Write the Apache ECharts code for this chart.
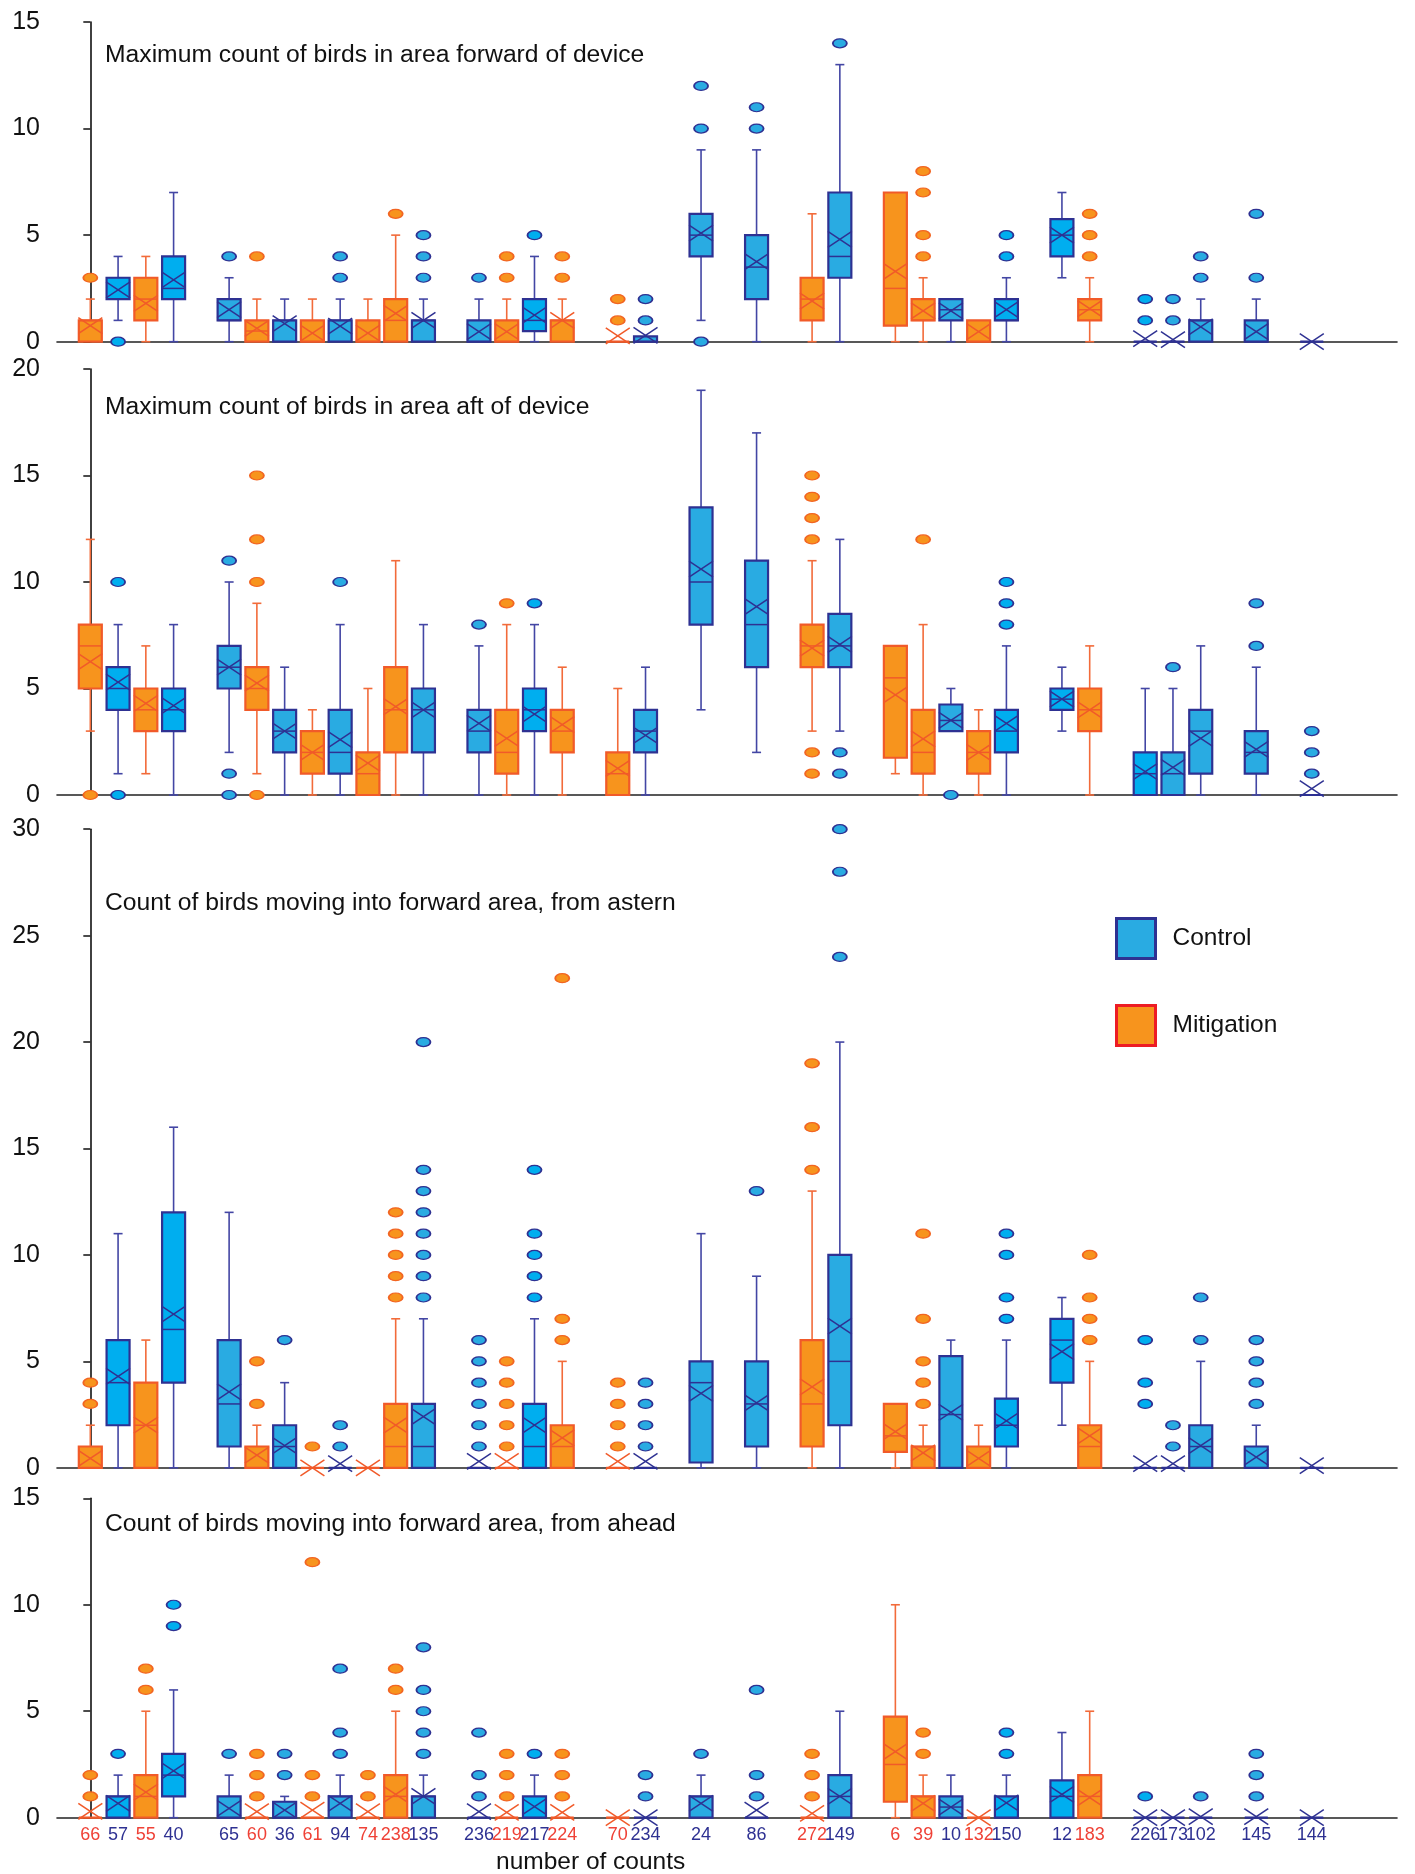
<!DOCTYPE html>
<html><head><meta charset="utf-8">
<script src="https://cdn.jsdelivr.net/npm/echarts@6/dist/echarts.min.js"></script>
<style>html,body{margin:0;padding:0;background:#fff}#c{width:1415px;height:1874px}</style>
</head><body><div id="c"></div><script>
// ---- categories (slot index on the x axis), counts and groups ----
const slotPos = [0,1,2,3,5,6,7,8,9,10,11,12,14,15,16,17,19,20,22,24,26,27,29,30,31,32,33,35,36,38,39,40,42,44];
const countLabels = [66,57,55,40,65,60,36,61,94,74,238,135,236,219,217,224,70,234,24,86,272,149,6,39,10,132,150,12,183,226,173,102,145,144];
const groups = ['M','C','M','C','C','M','C','M','C','M','M','C','C','M','C','M','M','C','C','C','M','C','M','M','C','M','C','C','M','C','C','C','C','C'];

const panelTitles = [
  'Maximum count of birds in area forward of device',
  'Maximum count of birds in area aft of device',
  'Count of birds moving into forward area, from astern',
  'Count of birds moving into forward area, from ahead'
];
const yMax = [15, 20, 30, 15];

// ---- stats per slot: [min, Q1, median, Q3, max, mean] ----
const fwdStats = [
  [0,0,1,1,2,0.75],[1,2,2,3,4,2.43],[0,1,2,3,4,1.8],[0,2,2.5,4,7,2.9],
  [0,1,1,2,3,1.5],[0,0,0.5,1,2,0.63],[0,0,1,1,2,0.85],[0,0,0,1,2,0.4],
  [0,0,1,1,2,0.73],[0,0,0,1,2,0.4],[0,0,1,2,5,1.33],[0,0,1,1,2,1.0],
  [0,0,0,1,2,0.47],[0,0,0,1,2,0.47],[0,0.5,1,2,4,1.25],[0,0,1,1,2,1.0],
  [0,0,0,0,0,0.27],[0,0,0,0.25,0.25,0.3],[1,4,5,6,9,5.1],[0,2,3.5,5,9,3.76],
  [0,1,2,3,6,1.9],[0,3,4,7,13,4.8],[0,0.75,2.5,7,7,3.3],[0,1,1,2,3,1.45],
  [0,1,1.5,2,2,1.45],[0,0,0,1,1,0.47],[0,1,1,2,3,1.5],[3,4,5,5.75,7,5],
  [0,1,1.5,2,3,1.55],[0,0,0,0,0,0.15],[0,0,0,0,0,0.1],[0,0,1,1,2,0.7],
  [0,0,0,1,2,0.47],[0,0,0,0,0,0]
];
const fwdOut = [[3],[0],[],[],[4],[4],[],[],[3,4],[],[6],[3,4,5],[3],[3,4],[5],[3,4],[1,2],[1,2],
  [10,12,0],[10,11],[],[14],[],[4,5,7,8],[],[],[4,5],[],[4,5,6],[1,2],[1,2],[3,4],[3,6],[]];

const aftStats = [
  [3,5,7,8,12,6.26],[1,4,5,6,8,5.3],[1,3,4,5,7,4.3],[0,3,4,5,8,4.2],
  [2,5,6,7,10,6.0],[1,4,5,6,9,5.25],[0,2,3,4,6,3.0],[0,1,2,3,4,2.0],
  [0,1,2,4,8,2.6],[0,0,1,2,5,1.5],[0,2,4,6,11,4.15],[0,2,4,5,8,4.0],
  [0,2,3,4,7,3.36],[0,1,2,4,8,2.66],[0,3,4,5,8,3.8],[0,2,3,4,6,3.3],
  [0,0,1,2,5,1.25],[0,2,3,4,6,2.8],[4,8,10,13.5,19,10.6],[2,6,8,11,17,8.84],
  [3,6,7,8,11,6.9],[3,6,7,8.5,12,7.07],[1,1.75,5.5,7,7,4.7],[0,1,2,4,8,2.63],
  [3,3,3.5,4.25,5,3.5],[0,1,2,3,4,2.0],[0,2,3,4,7,3.36],[3,4,4.5,5,6,4.5],
  [0,3,4,5,7,4.0],[0,0,1,2,5,1.1],[0,0,1,2,5,1.3],[0,1,3,4,7,2.66],
  [0,1,2,3,6,2.14],[0,0,0,0,0,0.3]
];
const aftOut = [[0],[10,0],[],[],[11,1,0],[10,12,15,0],[],[],[10],[],[],[],[8],[9],[9],[],[],[],
  [],[],[12,13,14,15,2,1],[2,1],[],[12],[0],[],[8,9,10],[],[],[],[6],[],[7,9],[1,2,3]];

const asternStats = [
  [0,0,0,1,2,0.44],[0,2,4,6,11,4.3],[0,0,2,4,6,2.0],[0,4,6.5,12,16,7.22],
  [0,1,3,6,12,3.57],[0,0,0,1,2,0.6],[0,0,1,2,4,1.04],[0,0,0,0,0,0],
  [0,0,0,0,0,0.2],[0,0,0,0,0,0],[0,0,1,3,7,2.0],[0,0,1,3,7,2.4],
  [0,0,0,0,0,0.3],[0,0,0,0,0,0.3],[0,0,1,3,7,2.0],[0,0,1,2,5,1.4],
  [0,0,0,0,0,0.3],[0,0,0,0,0,0.3],[0,0.25,4,5,11,3.5],[0,1,3,5,9,3.05],
  [0,1,3,6,13,3.8],[0,2,5,10,20,6.66],[0,0.75,1.5,3,3,1.7],[0,0,1,1,2,0.7],
  [0,0,2.5,5.25,6,2.6],[0,0,0,1,2,0.44],[0,1,2,3.25,6,2.2],[2,4,6,7,8,5.46],
  [0,0,1,2,5,1.5],[0,0,0,0,0,0.2],[0,0,0,0,0,0.2],[0,0,1,2,5,1.04],
  [0,0,0,1,2,0.5],[0,0,0,0,0,0.1]
];
const asternOut = [[3,4],[],[],[],[],[3,5],[6],[1],[1,2],[],[8,9,10,11,12],[8,9,10,11,12,13,14,20],
  [1,2,3,4,5,6],[1,2,3,4,5],[8,9,10,11,14],[6,7,23],[1,2,3,4],[1,2,3,4],[],[13],[14,16,19],[24,28,30],
  [],[3,4,5,7,11],[],[],[7,8,10,11],[],[6,7,8,10],[3,4,6],[1,2],[6,8],[3,4,5,6],[]];

const aheadStats = [
  [0,0,0,0,0,0.3],[0,0,1,1,2,0.67],[0,0,1,2,5,1.2],[0,1,2,3,6,2.2],
  [0,0,0,1,2,0.44],[0,0,0,0,0,0.28],[0,0,0,0.75,1,0.36],[0,0,0,0,0,0.36],
  [0,0,1,1,2,0.67],[0,0,0,0,0,0.28],[0,0,1,2,5,1.1],[0,0,1,1,2,1.0],
  [0,0,0,0,0,0.28],[0,0,0,0,0,0.25],[0,0,0,1,2,0.52],[0,0,0,0,0,0.25],
  [0,0,0,0,0,0],[0,0,0,0,0,0],[0,0,1,1,2,0.67],[0,0,0,0,0,0.36],
  [0,0,0,0,0,0.2],[0,0,1,2,5,1.0],[0,0.75,2.5,4.75,10,3.1],[0,0,1,1,2,0.67],
  [0,0,0.5,1,2,0.5],[0,0,0,0,0,0],[0,0,0,1,2,0.7],[0,0,1,1.75,4,1.1],
  [0,0,1,2,5,0.94],[0,0,0,0,0,0],[0,0,0,0,0,0],[0,0,0,0,0,0.05],
  [0,0,0,0,0,0.05],[0,0,0,0,0,0]
];
const aheadOut = [[1,2],[3],[6,7],[9,10],[3],[1,2,3],[2,3],[1,2,12],[3,4,7],[1,2],[6,7],[3,4,5,6,8],
  [1,2,4],[1,2,3],[3],[1,2,3],[],[1,2],[3],[1,2,6],[1,2,3],[],[],[3,4],[],[],[3,4],[],[],[1],[],[1],[1,2,3],[]];

const allStats = [fwdStats, aftStats, asternStats, aheadStats];
const allOut = [fwdOut, aftOut, asternOut, aheadOut];

// ---- styles ----
const FONT = '"Liberation Sans", Arial, sans-serif';
const NARROW = '"Liberation Sans Narrow", "Liberation Sans", Arial, sans-serif';
const BRIGHT_FILL = '#00aeef';
const BRIGHT_SLOTS = [1, 3, 16, 33, 35, 38];   // control slots drawn in the brighter cyan
const STY = {
  C: {fill:'#29abe2', border:'#2e3192', line:'#4346a4', cross:'#2e3192', oFill:'#29abe2', oBorder:'#2e3192'},
  M: {fill:'#f7941d', border:'#f15a29', line:'#f26b3a', cross:'#f15a29', oFill:'#f7941d', oBorder:'#f26522'}
};
const GRIDS = [
  {top:22, height:319.7},
  {top:369, height:426},
  {top:829.2, height:638.6},
  {top:1498.3, height:319.4}
];
const TITLE_TOPS = [43, 394.5, 891, 1512];

function makeRender(col) {
  return function (params, api) {
    const x = api.value(0);
    const p = (i) => api.coord([x, api.value(i)]);
    const pMin = p(1), pQ1 = p(2), pMed = p(3), pQ3 = p(4), pMax = p(5), pMean = p(6);
    const cx = pMin[0];
    const fill = (col === STY.C && BRIGHT_SLOTS.indexOf(Math.round(x)) >= 0) ? BRIGHT_FILL : col.fill;
    const bw = 23, cap = 4.5, xw = 12, xh = 8;
    const ls = {stroke: col.line, lineWidth: 1.6};
    const ch = [];
    if (pMax[1] < pQ3[1] - 0.5) {
      ch.push({type:'line', shape:{x1:cx, y1:pQ3[1], x2:cx, y2:pMax[1]}, style:ls});
      ch.push({type:'line', shape:{x1:cx-cap, y1:pMax[1], x2:cx+cap, y2:pMax[1]}, style:ls});
    }
    if (pMin[1] > pQ1[1] + 0.5) {
      ch.push({type:'line', shape:{x1:cx, y1:pQ1[1], x2:cx, y2:pMin[1]}, style:ls});
      ch.push({type:'line', shape:{x1:cx-cap, y1:pMin[1], x2:cx+cap, y2:pMin[1]}, style:ls});
    }
    ch.push({type:'rect', shape:{x:cx-bw/2, y:pQ3[1], width:bw, height:Math.max(pQ1[1]-pQ3[1], 0)},
      style:{fill:fill, stroke:col.border, lineWidth:2.2}});
    ch.push({type:'line', shape:{x1:cx-bw/2, y1:pMed[1], x2:cx+bw/2, y2:pMed[1]}, style:{stroke:col.border, lineWidth:1.5}});
    ch.push({type:'line', shape:{x1:cx-xw, y1:pMean[1]-xh, x2:cx+xw, y2:pMean[1]+xh}, style:{stroke:col.cross, lineWidth:1.5}});
    ch.push({type:'line', shape:{x1:cx-xw, y1:pMean[1]+xh, x2:cx+xw, y2:pMean[1]-xh}, style:{stroke:col.cross, lineWidth:1.5}});
    return {type:'group', children:ch};
  };
}

const grid = [], xAxis = [], yAxis = [], series = [], title = [];
for (let pi = 0; pi < 4; pi++) {
  grid.push({left:57, right:18, top:GRIDS[pi].top, height:GRIDS[pi].height, containLabel:false});
  const isLast = pi === 3;
  xAxis.push({
    type:'value', gridIndex:pi, min:-1.2, max:47.07,
    splitLine:{show:false}, axisTick:{show:false},
    axisLine:{show:true, onZero:false, lineStyle:{color:'#222', width:1.6}},
    axisLabel: isLast ? {
      show:true, customValues:slotPos, margin:8, interval:0, hideOverlap:false,
      fontFamily:NARROW, fontSize:18,
      formatter: function (v) {
        const i = slotPos.indexOf(Math.round(v));
        if (i < 0) return '';
        return (groups[i] === 'M' ? '{m|' : '{c|') + countLabels[i] + '}';
      },
      rich: {m:{color:'#ef4136', fontSize:18, fontFamily:NARROW},
             c:{color:'#2e3192', fontSize:18, fontFamily:NARROW}}
    } : {show:false}
  });
  yAxis.push({
    type:'value', gridIndex:pi, min:0, max:yMax[pi], interval:5,
    splitLine:{show:false},
    axisLine:{show:true, lineStyle:{color:'#111', width:1.6}},
    axisTick:{show:true, length:7, inside:false, lineStyle:{color:'#111', width:1.5}},
    axisLabel:{show:true, fontSize:25, color:'#111', fontFamily:FONT, margin:17}
  });
  title.push({text:panelTitles[pi], left:105, top:TITLE_TOPS[pi], padding:0,
    textStyle:{fontSize:24.7, fontWeight:'normal', color:'#111', fontFamily:FONT}});

  const st = allStats[pi], out = allOut[pi];
  ['C','M'].forEach(function (g) {
    const boxData = [], outData = [];
    const col = STY[g];
    for (let i = 0; i < slotPos.length; i++) {
      if (groups[i] !== g) continue;
      boxData.push([slotPos[i]].concat(st[i]));
      const bright = g === 'C' && BRIGHT_SLOTS.indexOf(slotPos[i]) >= 0;
      out[i].forEach(function (v) {
        outData.push(bright ? {value:[slotPos[i], v], itemStyle:{color:BRIGHT_FILL}} : [slotPos[i], v]);
      });
    }
    const name = g === 'C' ? 'Control' : 'Mitigation';
    series.push({
      type:'custom', name:name, xAxisIndex:pi, yAxisIndex:pi,
      renderItem:makeRender(col), data:boxData,
      encode:{x:0, y:[1,2,3,4,5,6]}, clip:false, z:2,
      itemStyle:{color:col.fill, borderColor:col.border}
    });
    series.push({
      type:'scatter', name:name, xAxisIndex:pi, yAxisIndex:pi,
      data:outData, symbol:'circle', symbolSize:[14, 9], z:3,
      itemStyle:{color:col.oFill, borderColor:col.oBorder, borderWidth:1.5, opacity:1}
    });
  });
}
title.push({text:'number of counts', left:496, top:1850, padding:0,
  textStyle:{fontSize:24.5, fontWeight:'normal', color:'#111', fontFamily:FONT}});

const chart = echarts.init(document.getElementById('c'), null, {renderer:'canvas'});
chart.setOption({
  animation:false,
  backgroundColor:'#ffffff',
  title:title,
  grid:grid, xAxis:xAxis, yAxis:yAxis, series:series,
  legend:{
    orient:'vertical', left:1115, top:917, padding:0, itemWidth:39, itemHeight:40, itemGap:44,
    selectedMode:false,
    textStyle:{fontSize:24.5, color:'#111', fontFamily:FONT, padding:[0,0,0,12]},
    data:[
      {name:'Control', icon:'rect', itemStyle:{color:'#29abe2', borderColor:'#2e3192', borderWidth:3}},
      {name:'Mitigation', icon:'rect', itemStyle:{color:'#f7941d', borderColor:'#ed1c24', borderWidth:3}}
    ]
  },
  tooltip:{show:false}
});
</script></body></html>
